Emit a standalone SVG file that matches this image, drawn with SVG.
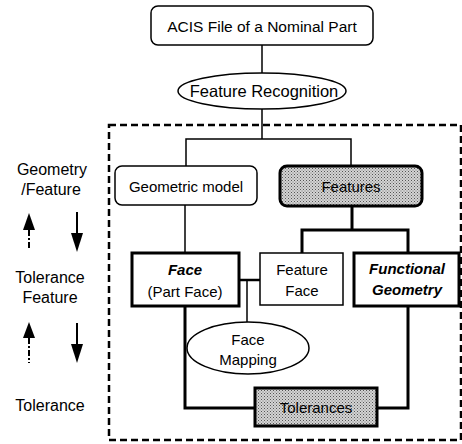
<svg xmlns="http://www.w3.org/2000/svg" width="462" height="444" viewBox="0 0 462 444">
<defs>
<pattern id="dots" patternUnits="userSpaceOnUse" width="3" height="3">
<rect width="3" height="3" fill="#d4d4d4"/>
<rect x="0" y="0" width="1" height="1" fill="#555"/>
<rect x="1.5" y="1.5" width="1" height="1" fill="#777"/>
</pattern>
</defs>
<style>
text{font-family:"Liberation Sans",Arial,sans-serif;font-size:15px;fill:#000;text-anchor:middle}
.bi{font-weight:bold;font-style:italic}
.thin{fill:#fff;stroke:#000;stroke-width:1.5}
.thick{fill:#fff;stroke:#000;stroke-width:3}
.pat{fill:url(#dots);stroke:#000;stroke-width:3}
.l1{fill:none;stroke:#000;stroke-width:1.5}
.l3{fill:none;stroke:#000;stroke-width:3}
</style>
<rect x="0" y="0" width="462" height="444" fill="#fff"/>
<rect id="scope" x="109" y="125" width="352" height="315" fill="none" stroke="#000" stroke-width="2.5" stroke-dasharray="7 4"/>
<g id="connectors">
<line class="l1" x1="262" y1="45" x2="262" y2="73"/>
<polyline class="l1" points="262,109 262,139"/>
<polyline class="l1" points="186,166 186,139 351,139 351,166"/>
<line class="l1" x1="185" y1="205" x2="185" y2="253"/>
<line class="l3" x1="352" y1="205" x2="352" y2="230"/>
<polyline class="l3" points="302,253 302,230 408,230 408,253"/>
<line x1="239" y1="280" x2="260" y2="280" stroke="#000" stroke-width="2.5"/>
<line class="l1" x1="247" y1="280" x2="247" y2="322"/>
<polyline class="l3" points="185,306 185,408 255,408"/>
<polyline class="l3" points="377,408 408,408 408,306"/>
</g>
<g id="acis">
<rect class="thin" x="151" y="6" width="222" height="39" rx="7"/>
<text x="262" y="32" style="font-size:15.5px">ACIS File of a Nominal Part</text>
</g>
<g id="feature-recognition">
<ellipse class="thin" cx="262" cy="91" rx="84" ry="18"/>
<text x="264" y="97" style="font-size:16.5px">Feature Recognition</text>
</g>
<g id="geometric-model">
<rect class="thin" x="115" y="166" width="142" height="39" rx="7"/>
<text x="186" y="192">Geometric model</text>
</g>
<g id="features">
<rect class="pat" x="280" y="166" width="142" height="40" rx="7"/>
<text x="351" y="192">Features</text>
</g>
<g id="face">
<rect class="thick" x="132" y="253" width="107" height="53"/>
<text class="bi" x="185" y="275">Face</text>
<text x="185" y="297">(Part Face)</text>
</g>
<g id="feature-face">
<rect class="thin" x="260" y="253" width="83" height="52"/>
<text x="302" y="275">Feature</text>
<text x="302" y="296">Face</text>
</g>
<g id="functional-geometry">
<rect class="thick" x="354" y="253" width="105" height="53"/>
<text class="bi" x="407" y="274">Functional</text>
<text class="bi" x="407" y="295">Geometry</text>
</g>
<g id="face-mapping">
<ellipse class="thin" cx="248" cy="348" rx="61" ry="26"/>
<text x="248" y="345">Face</text>
<text x="248" y="365">Mapping</text>
</g>
<g id="tolerances">
<rect class="pat" x="255" y="388" width="122" height="38"/>
<text x="316" y="413">Tolerances</text>
</g>
<g id="legend">
<text x="52" y="175" style="font-size:16px">Geometry</text>
<text x="51" y="195" style="font-size:16px">/Feature</text>
<polygon points="29,213 23,230 35,230" fill="#000"/>
<line x1="29" y1="230" x2="29" y2="250" stroke="#000" stroke-width="2" stroke-dasharray="6 2 2 2"/>
<line x1="77" y1="212" x2="77" y2="234" stroke="#000" stroke-width="2"/>
<polygon points="77,252 71,233 83,233" fill="#000"/>
<text x="50" y="283" style="font-size:16px">Tolerance</text>
<text x="50" y="303" style="font-size:16px">Feature</text>
<polygon points="29,322 23,338 35,338" fill="#000"/>
<line x1="29" y1="338" x2="29" y2="363" stroke="#000" stroke-width="2" stroke-dasharray="6 2 2 2"/>
<line x1="77" y1="323" x2="77" y2="345" stroke="#000" stroke-width="2"/>
<polygon points="77,363 71,344 83,344" fill="#000"/>
<text x="50" y="411" style="font-size:16px">Tolerance</text>
</g>
</svg>
